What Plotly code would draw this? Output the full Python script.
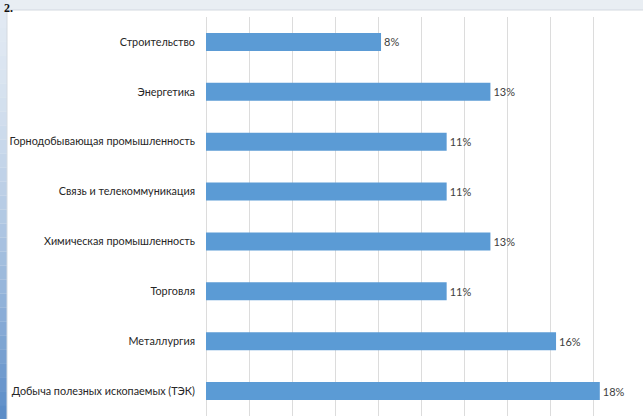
import plotly.graph_objects as go

# Доля отраслей (в процентах)
categories = [
    "Строительство",
    "Энергетика",
    "Горнодобывающая промышленность",
    "Связь и телекоммуникация",
    "Химическая промышленность",
    "Торговля",
    "Металлургия",
    "Добыча полезных ископаемых (ТЭК)",
]
shares = [8, 13, 11, 11, 13, 11, 16, 18]
value_labels = [f"{v}%" for v in shares]

W, H = 643, 419
L, R, T, B = 206, 6, 17, 3
PW = W - L - R
PH = H - T - B


def fx(px):
    """page pixel x -> paper x"""
    return (px - L) / PW


def fy(py):
    """page pixel y (from top) -> paper y"""
    return (H - B - py) / PH


def lerp_color(c0, c1, t):
    return "rgb({},{},{})".format(*[round(a + (b - a) * t) for a, b in zip(c0, c1)])


shapes = []

# slide edge on the left: light at the top, deeper blue towards the bottom
steps = 30
top_c, bottom_c = (226, 234, 243), (88, 138, 198)
for i in range(steps):
    y0 = H * i / steps
    y1 = H * (i + 1) / steps
    t = ((i + 0.5) / steps) ** 1.6
    shapes.append(dict(
        type="rect", xref="paper", yref="paper", layer="below",
        x0=fx(0), x1=fx(7), y0=fy(y1), y1=fy(y0),
        fillcolor=lerp_color(top_c, bottom_c, t), line=dict(width=0),
    ))

# white chart card
shapes.append(dict(
    type="rect", xref="paper", yref="paper", layer="below",
    x0=fx(7), x1=fx(W + 2), y0=fy(H + 2), y1=fy(10),
    fillcolor="white", line=dict(color="#d3d9e0", width=1),
))

fig = go.Figure(go.Bar(
    x=shares,
    y=categories,
    orientation="h",
    marker=dict(color="#5b9bd5", line=dict(width=0)),
    text=value_labels,
    textposition="outside",
    textfont=dict(family="Lato, 'Noto Sans', sans-serif", size=11, color="#404040"),
    cliponaxis=False,
    hoverinfo="skip",
))

fig.update_layout(
    width=W,
    height=H,
    margin=dict(l=L, r=R, t=T, b=B, pad=0),
    paper_bgcolor="#e9eef3",
    plot_bgcolor="rgba(0,0,0,0)",
    bargap=0.64,
    showlegend=False,
    shapes=shapes,
    annotations=[dict(
        text="<b>2.</b>", xref="paper", yref="paper",
        x=fx(3), y=fy(0), xanchor="left", yanchor="top",
        showarrow=False, borderpad=0,
        font=dict(family="Liberation Serif, serif", size=12, color="#111111"),
    )],
    xaxis=dict(
        range=[0, 19.7],
        tickmode="linear", tick0=0, dtick=1.97,
        showticklabels=False,
        showgrid=True, gridcolor="#dcdcdc", gridwidth=1,
        zeroline=True, zerolinecolor="#dcdcdc", zerolinewidth=1,
        showline=False, fixedrange=True,
    ),
    yaxis=dict(
        autorange="reversed",
        showgrid=False, showline=False, zeroline=False,
        ticks="", ticklabelstandoff=10,
        tickfont=dict(family="Lato, 'Noto Sans', sans-serif", size=10.8, color="#262626"),
        fixedrange=True,
    ),
)

fig.write_html("out.html")
